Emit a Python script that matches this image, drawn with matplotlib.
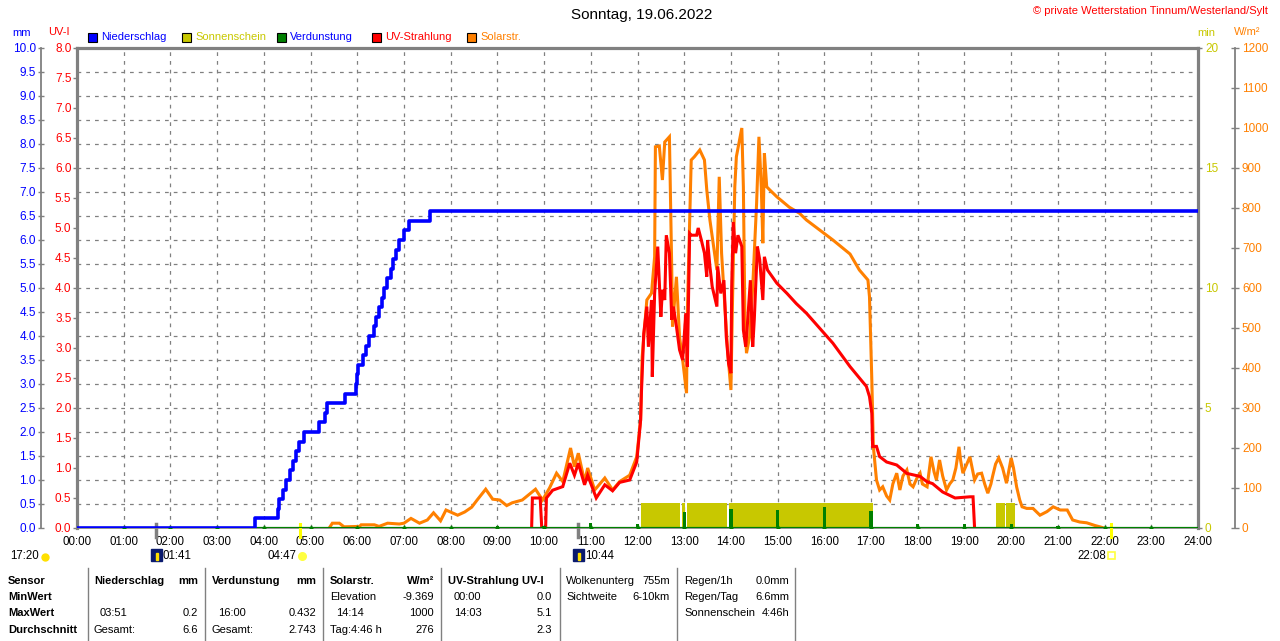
import numpy as np
import matplotlib.pyplot as plt
from matplotlib.patches import Rectangle
from matplotlib.lines import Line2D

plt.rcParams['font.family'] = ['Liberation Sans', 'DejaVu Sans']

W, H = 1280, 641

# ── Data ─────────────────────────────────────────────────────────────────
# cumulative rain, mm (step series)
rain_time = ['00:00', '03:49', '04:18', '04:20', '04:24', '04:29', '04:33', '04:37',
             '04:41', '04:45', '04:51', '05:11', '05:18', '05:21', '05:44', '05:58',
             '06:00', '06:01', '06:07', '06:11', '06:15', '06:21', '06:24', '06:28',
             '06:32', '06:35', '06:38', '06:43', '06:46', '06:50', '06:54', '07:00',
             '07:07', '07:33', '24:00']
rain_mm = [0.0, 0.2, 0.4, 0.6, 0.8, 1.0, 1.2, 1.4, 1.6, 1.8, 2.0, 2.2, 2.4, 2.6, 2.8,
           3.0, 3.2, 3.4, 3.6, 3.8, 4.0, 4.2, 4.4, 4.6, 4.8, 5.0, 5.2, 5.4, 5.6, 5.8,
           6.0, 6.2, 6.4, 6.6, 6.6]

# solar radiation, minute of day -> W/m²
solar_min = [324, 328, 337, 343, 363, 365, 382, 388, 399, 414, 420, 429, 440, 450, 458,
             467, 474, 489, 498, 507, 514, 525, 534, 543, 552, 559, 572, 589, 598, 607,
             616, 624, 634, 639, 644, 652, 656, 665, 678, 688, 697, 710, 719, 724, 726,
             732, 738, 742, 743, 748, 752, 755, 761, 764, 765, 770, 774, 778, 783, 784,
             787, 789, 793, 800, 806, 809, 813, 816, 822, 825, 828, 832, 836, 840, 842,
             845, 847, 854, 856, 858, 860, 864, 868, 873, 876, 879, 881, 883, 886, 890,
             899, 915, 928, 937, 954, 971, 993, 1005, 1016, 1018, 1021, 1023, 1027, 1031,
             1035, 1040, 1044, 1048, 1053, 1057, 1061, 1066, 1070, 1074, 1079, 1083, 1086,
             1092, 1097, 1101, 1104, 1108, 1112, 1117, 1121, 1125, 1129, 1133, 1135, 1138,
             1143, 1147, 1151, 1153, 1157, 1162, 1166, 1170, 1174, 1176, 1180, 1184, 1189,
             1194, 1200, 1203, 1207, 1211, 1214, 1220, 1228, 1237, 1246, 1254, 1263, 1272,
             1279, 1288, 1297, 1308, 1314, 1319]
solar_wm2 = [0, 12, 12, 3, 4, 8, 8, 4, 12, 10, 12, 24, 12, 20, 38,
             18, 45, 32, 40, 52, 70, 97, 72, 70, 56, 63, 70, 97, 70, 100,
             137, 116, 200, 153, 187, 116, 150, 95, 125, 95, 116, 132, 178, 270, 428,
             570, 587, 678, 953, 955, 870, 965, 978, 645, 503, 628, 478, 420, 337, 537,
             770, 920, 928, 945, 920, 845, 770, 728, 645, 878, 687, 562, 437, 345, 562,
             853, 928, 1000, 853, 520, 437, 478, 603, 812, 978, 853, 712, 937, 853, 845,
             828, 802, 787, 770, 745, 720, 685, 645, 620, 578, 370, 203, 120, 95,
             103, 80, 70, 110, 137, 95, 130, 145, 110, 103, 125, 137, 110,
             103, 178, 140, 120, 170, 130, 95, 110, 120, 150, 203, 170, 137,
             160, 178, 140, 120, 135, 137, 110, 87, 110, 128, 160, 175, 150,
             112, 175, 150, 103, 70, 53, 49, 49, 32, 41, 53, 45, 45,
             20, 15, 13, 6, 3, 0]

# UV index, minute of day -> UV-I
uv_min = [584, 585, 595, 597, 602, 603, 611, 624, 633, 639, 644, 652, 656, 667, 678,
          688, 697, 710, 719, 724, 725, 728, 732, 734, 738, 739, 742, 746, 750, 752,
          755, 757, 761, 764, 766, 770, 774, 778, 782, 784, 787, 789, 796, 798, 802,
          806, 809, 810, 813, 816, 822, 823, 827, 831, 834, 837, 840, 841, 843, 846,
          849, 854, 856, 859, 861, 865, 868, 870, 874, 877, 881, 883, 887, 899, 912,
          924, 937, 954, 971, 993, 1014, 1018, 1021, 1022, 1027, 1031, 1040, 1053, 1066,
          1083, 1092, 1099, 1112, 1128, 1147, 1151, 1153]
uv_idx = [0, 0.5, 0.5, 0, 0, 0.5, 0.63, 0.69, 1.08, 0.88, 1.08, 0.72, 0.88, 0.5, 0.72,
          0.62, 0.76, 0.8, 1.1, 1.8, 2.24, 3.24, 3.69, 3.02, 3.8, 2.52, 3.91, 4.69, 3.52, 3.97,
          3.8, 4.88, 4.58, 3.47, 3.69, 3.36, 2.97, 2.8, 3.58, 2.69, 4.91, 4.88, 4.88, 5.0, 4.8,
          4.58, 4.19, 4.8, 4.36, 4.02, 3.69, 4.36, 3.91, 4.13, 3.19, 2.74, 2.58, 4.02, 5.1, 4.58,
          4.88, 4.69, 3.3, 3.02, 3.36, 4.13, 3.02, 3.47, 4.69, 4.47, 3.8, 4.52, 4.3, 4.08, 3.91,
          3.74, 3.58, 3.33, 3.08, 2.69, 2.36, 2.19, 1.91, 1.36, 1.36, 1.19, 1.1, 1.05, 0.91,
          0.86, 0.77, 0.74, 0.6, 0.5, 0.52, 0.52, 0]

# sunshine periods (right axis "min")
sun_start = ['12:05', '12:57', '13:04', '13:58', '19:40', '19:54']
sun_end = ['12:55', '13:01', '13:55', '17:03', '19:52', '20:05']
sun_height = [1.05, 1.05, 1.05, 1.05, 1.05, 1.05]

# hourly evaporation, mm
evap_hour = list(range(25))
evap_mm = [0.0, 0.02, 0.02, 0.02, 0.02, 0.02, 0.02, 0.02, 0.03, 0.05, 0.05, 0.10, 0.08,
           0.33, 0.40, 0.38, 0.432, 0.36, 0.08, 0.08, 0.09, 0.05, 0.02, 0.02, 0.0]

sunrise, sunset = '04:47', '22:08'
moon_events = ['01:41', '10:44']
moon_prev = '17:20'

# ── Colours ─────────────────────────────────────────────────────────────
C_BLUE = '#0000FF'
C_RED = '#FF0000'
C_ORANGE = '#FF8000'
C_OLIVE = '#C8C800'
C_GREEN = '#008000'
C_GRAY = '#808080'
C_NAVY = '#0A1A6E'


def hm(s):
    h, m = s.split(':')
    return int(h) + int(m) / 60.0


def fx(x):
    return x / W


def fy(y):
    return 1 - y / H


# ── Figure / axes ───────────────────────────────────────────────────────
fig = plt.figure(figsize=(W / 100, H / 100), dpi=100)
fig.patch.set_facecolor('white')
x0, x1, yt, yb = 77, 1198, 48, 528
rect = [fx(x0), fy(yb), (x1 - x0) / W, (yb - yt) / H]

ax_sun = fig.add_axes(rect)
ax_w = ax_sun.twinx()
ax_uv = ax_sun.twinx()
ax_mm = ax_sun.twinx()

ax_sun.set_xlim(0, 24)
ax_sun.set_ylim(0, 20)
ax_w.set_ylim(0, 1200)
ax_uv.set_ylim(0, 8)
ax_mm.set_ylim(0, 10)

# grid & frame on bottom axes
ax_sun.set_axisbelow(True)
ax_sun.set_xticks(range(25))
ax_sun.set_xticklabels([f'{h:02d}:00' for h in range(25)], fontsize=8.3)
ax_sun.tick_params(axis='x', length=0, pad=6)
ax_sun.set_yticks(np.arange(0, 21, 5))
ax_sun.set_yticks(np.arange(0, 21, 1), minor=True)
ax_sun.grid(True, which='both', color=C_GRAY, linestyle=(0, (3, 4)), linewidth=0.9)
ax_sun.tick_params(axis='y', which='minor', length=0)
ax_sun.yaxis.tick_right()
ax_sun.tick_params(axis='y', which='major', colors=C_GRAY, labelcolor=C_OLIVE,
                   length=3, width=1, pad=2, labelsize=8.5)
for side in ['left', 'top', 'right']:
    ax_sun.spines[side].set_color(C_GRAY)
    ax_sun.spines[side].set_linewidth(2.3)
ax_sun.spines['bottom'].set_color(C_GRAY)
ax_sun.spines['bottom'].set_linewidth(1.2)

# solar axis (far right)
ax_w.set_yticks(np.arange(0, 1201, 100))
ax_w.spines['right'].set_position(('axes', (1235 - x0) / (x1 - x0)))
ax_w.spines['right'].set_color(C_GRAY)
ax_w.spines['right'].set_linewidth(1.3)
for side in ['left', 'top', 'bottom']:
    ax_w.spines[side].set_visible(False)
ax_w.tick_params(axis='y', direction='inout', length=6, width=1, colors=C_GRAY,
                 labelcolor=C_ORANGE, pad=2, labelsize=8.5)

# UV axis (on the plot frame, left)
ax_uv.yaxis.tick_left()
ax_uv.set_yticks(np.arange(0, 8.01, 0.5))
ax_uv.set_yticklabels([f'{v:.1f}' for v in np.arange(0, 8.01, 0.5)])
for side in ax_uv.spines:
    ax_uv.spines[side].set_visible(False)
ax_uv.tick_params(axis='y', length=3, width=1, colors=C_GRAY, labelcolor=C_RED,
                  pad=1, labelsize=8.5)

# mm axis (outer left)
ax_mm.yaxis.tick_left()
ax_mm.set_yticks(np.arange(0, 10.01, 0.5))
ax_mm.set_yticklabels([f'{v:.1f}' for v in np.arange(0, 10.01, 0.5)])
for side in ax_mm.spines:
    ax_mm.spines[side].set_visible(False)
ax_mm.spines['left'].set_visible(True)
ax_mm.spines['left'].set_position(('axes', (40.7 - x0) / (x1 - x0)))
ax_mm.spines['left'].set_color(C_GRAY)
ax_mm.spines['left'].set_linewidth(1.3)
ax_mm.tick_params(axis='y', direction='inout', length=5, width=1, colors=C_GRAY,
                  labelcolor=C_BLUE, pad=1, labelsize=8.5)

# ── Series ──────────────────────────────────────────────────────────────
s0 = np.array([hm(s) for s in sun_start])
s1 = np.array([hm(s) for s in sun_end])
ax_sun.bar(s0, sun_height, width=s1 - s0, align='edge', color=C_OLIVE, zorder=2)

ax_w.plot(np.array(solar_min) / 60.0, solar_wm2, color=C_ORANGE, lw=2.2,
          solid_joinstyle='miter')
ax_uv.plot(np.array(uv_min) / 60.0, uv_idx, color=C_RED, lw=2.2,
           solid_joinstyle='miter')

eh = np.array(evap_hour, dtype=float)
ax_mm.plot(eh, np.zeros_like(eh), color=C_GREEN, lw=1.6)
ax_mm.bar(eh, evap_mm, width=0.07, color=C_GREEN)
ax_mm.plot(eh[1:-1], np.zeros(len(eh) - 2), linestyle='none', marker='^',
           markersize=3.5, color=C_GREEN)

ax_mm.plot([hm(t) for t in rain_time], rain_mm, drawstyle='steps-post',
           color=C_BLUE, lw=2.6)

# sun / moon markers across the time axis
for t in (sunrise, sunset):
    ax_sun.axvline(hm(t), ymin=-0.018, ymax=0.008, color='#FFFF00', lw=2.2,
                   clip_on=False, zorder=5)
for t in moon_events:
    ax_sun.axvline(hm(t), ymin=-0.018, ymax=0.008, color=C_GRAY, lw=2.5,
                   clip_on=False, zorder=5)

# event labels under the axis
fs = 8.3
yev = fy(556)
fig.text(fx(10), yev, moon_prev, fontsize=fs, va='center', ha='left')
fig.add_artist(Line2D([fx(44.5)], [fy(557)], marker='o', markersize=5,
                      color='#FFE000', transform=fig.transFigure))
for t in moon_events:
    xp = 78 + hm(t) * (x1 - x0 - 1) / 24
    fig.add_artist(Rectangle((fx(xp - 6), fy(561)), 11 / W, 12 / H,
                             transform=fig.transFigure, color=C_NAVY))
    fig.add_artist(Rectangle((fx(xp - 1), fy(560)), 2 / W, 7 / H,
                             transform=fig.transFigure, color='#FFE000'))
    fig.text(fx(xp + 6), yev, t, fontsize=fs, va='center', ha='left')
xr = 78 + hm(sunrise) * (x1 - x0 - 1) / 24
fig.text(fx(xr - 5), yev, sunrise, fontsize=fs, va='center', ha='right')
fig.add_artist(Line2D([fx(xr + 1)], [fy(556)], marker='o', markersize=5.5,
                      color='#FFFF40', transform=fig.transFigure))
xs = 78 + hm(sunset) * (x1 - x0 - 1) / 24
fig.text(fx(xs - 5), yev, sunset, fontsize=fs, va='center', ha='right')
fig.add_artist(Rectangle((fx(xs - 3), fy(559)), 7 / W, 7 / H, transform=fig.transFigure,
                         facecolor='none', edgecolor='#FFFF40', lw=1.2))

# ── Titles, axis headers, legend ───────────────────────────────────────
fig.text(fx(642), fy(15), 'Sonntag, 19.06.2022', fontsize=11, ha='center', va='center')
fig.text(fx(1268), fy(11), '© private Wetterstation Tinnum/Westerland/Sylt',
         fontsize=8, color=C_RED, ha='right', va='center')
fig.text(fx(22), fy(33), 'mm', fontsize=8, color=C_BLUE, ha='center', va='center')
fig.text(fx(59), fy(32), 'UV-I', fontsize=8, color=C_RED, ha='center', va='center')
fig.text(fx(1206), fy(33), 'min', fontsize=8, color=C_OLIVE, ha='center', va='center')
fig.text(fx(1247), fy(32), 'W/m²', fontsize=8, color=C_ORANGE, ha='center', va='center')

legend = [('Niederschlag', C_BLUE, C_BLUE, 88),
          ('Sonnenschein', C_OLIVE, C_OLIVE, 182),
          ('Verdunstung', C_GREEN, C_BLUE, 277),
          ('UV-Strahlung', C_RED, C_RED, 372),
          ('Solarstr.', C_ORANGE, C_ORANGE, 467)]
for label, face, tcol, lx in legend:
    fig.add_artist(Rectangle((fx(lx), fy(42)), 9 / W, 9 / H, transform=fig.transFigure,
                             facecolor=face, edgecolor='black', lw=0.8))
    fig.text(fx(lx + 13), fy(37.5), label, fontsize=8, color=tcol, va='center')

# ── Summary table ──────────────────────────────────────────────────────
row_y = [581, 597, 613, 630]
row_names = ['Sensor', 'MinWert', 'MaxWert', 'Durchschnitt']
for yy, name in zip(row_y, row_names):
    fig.text(fx(8), fy(yy), name, fontsize=8, fontweight='bold', va='center')

for sx in [88, 205, 323, 441, 560, 677, 795]:
    fig.add_artist(Line2D([fx(sx), fx(sx)], [fy(568), fy(641)],
                          transform=fig.transFigure, color=C_GRAY, lw=1))

# (row, x, text, align, bold)
cells = [
    (0, 94, 'Niederschlag', 'left', True), (0, 198, 'mm', 'right', True),
    (2, 100, '03:51', 'left', False), (2, 198, '0.2', 'right', False),
    (3, 94, 'Gesamt:', 'left', False), (3, 198, '6.6', 'right', False),
    (0, 212, 'Verdunstung', 'left', True), (0, 316, 'mm', 'right', True),
    (2, 218, '16:00', 'left', False), (2, 316, '0.432', 'right', False),
    (3, 212, 'Gesamt:', 'left', False), (3, 316, '2.743', 'right', False),
    (0, 330, 'Solarstr.', 'left', True), (0, 434, 'W/m²', 'right', True),
    (1, 330, 'Elevation', 'left', False), (1, 434, '-9.369', 'right', False),
    (2, 336, '14:14', 'left', False), (2, 434, '1000', 'right', False),
    (3, 330, 'Tag:4:46 h', 'left', False), (3, 434, '276', 'right', False),
    (0, 448, 'UV-Strahlung UV-I', 'left', True),
    (1, 454, '00:00', 'left', False), (1, 552, '0.0', 'right', False),
    (2, 454, '14:03', 'left', False), (2, 552, '5.1', 'right', False),
    (3, 552, '2.3', 'right', False),
    (0, 566, 'Wolkenunterg', 'left', False), (0, 670, '755m', 'right', False),
    (1, 566, 'Sichtweite', 'left', False), (1, 670, '6-10km', 'right', False),
    (0, 684, 'Regen/1h', 'left', False), (0, 789, '0.0mm', 'right', False),
    (1, 684, 'Regen/Tag', 'left', False), (1, 789, '6.6mm', 'right', False),
    (2, 684, 'Sonnenschein', 'left', False), (2, 789, '4:46h', 'right', False),
]
for r, cx, txt, ha, bold in cells:
    fig.text(fx(cx), fy(row_y[r]), txt, fontsize=8, ha=ha, va='center',
             fontweight='bold' if bold else 'normal')

fig.savefig('out.png', dpi=100, facecolor='white')
